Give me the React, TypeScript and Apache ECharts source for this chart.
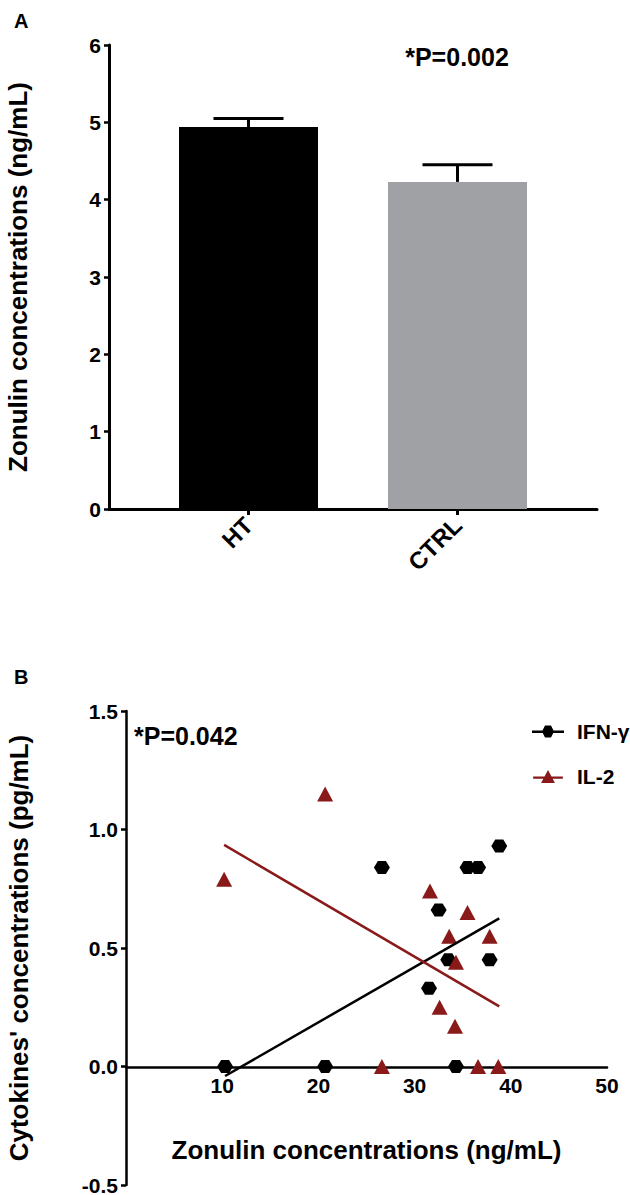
import React, { useEffect, useRef } from "react";
import * as echarts from "echarts";

// Panel A data
const categories = ["HT", "CTRL"];
const means = [4.94, 4.23];
const sems = [0.11, 0.22];
const barColors = ["#000000", "#a0a1a4"];

// Panel B data
const ifnX = [10.3, 20.7, 26.6, 31.5, 32.5, 33.5, 34.3, 35.5, 36.6, 37.8, 38.8];
const ifnY = [0, 0, 0.84, 0.33, 0.66, 0.45, 0, 0.84, 0.84, 0.45, 0.93];
const il2X = [10.2, 20.7, 26.6, 31.6, 32.6, 33.6, 34.2, 34.3, 35.5, 36.6, 37.8, 38.7];
const il2Y = [0.79, 1.15, 0, 0.74, 0.25, 0.55, 0.17, 0.44, 0.65, 0, 0.55, 0];
const ifnFitX = [10.3, 38.8];
const ifnFitY = [-0.04, 0.625];
const il2FitX = [10.2, 38.8];
const il2FitY = [0.935, 0.254];

const FONT = "'Liberation Sans', Arial, Helvetica, sans-serif";
const RED = "#8a1a1a";
const HEX = "path://M0,5 L3,0 L9,0 L12,5 L9,10 L3,10 Z";

export default function App() {
  const ref = useRef<HTMLDivElement>(null);
  useEffect(() => {
    document.body.style.margin = "0";
    const chart = echarts.init(ref.current!, null, { renderer: "svg" });
    const bold = { fontFamily: FONT, fontWeight: "bold" as const, color: "#000" };
    const option: any = {
      animation: false,
      backgroundColor: "#fff",
      grid: [
        { left: 109, right: 33, top: 45, height: 464, outerBoundsMode: "none", containLabel: false },
        { left: 126, right: 23, top: 711, height: 474, outerBoundsMode: "none", containLabel: false },
      ],
      xAxis: [
        {
          gridIndex: 0,
          type: "value",
          min: 0.3325,
          max: 2.6675,
          splitLine: { show: false },
          axisLine: { show: true, lineStyle: { color: "#000", width: 3 } },
          axisTick: { show: true, customValues: [1, 2], length: 6, lineStyle: { color: "#000", width: 3 } },
          axisLabel: {
            customValues: [1, 2],
            formatter: (v: number) => categories[Math.round(v) - 1] ?? "",
            rotate: 45,
            margin: 12,
            fontSize: 24,
            ...bold,
          },
        },
        {
          gridIndex: 1,
          type: "value",
          min: 0,
          max: 50,
          interval: 10,
          position: "bottom",
          offset: -118,
          splitLine: { show: false },
          axisLine: { show: true, onZero: false, lineStyle: { color: "#000", width: 2.5 } },
          axisTick: { show: false },
          axisLabel: {
            formatter: (v: number) => (v === 0 ? "" : String(v)),
            margin: 8,
            fontSize: 21,
            ...bold,
          },
          name: "Zonulin concentrations (ng/mL)",
          nameLocation: "middle",
          nameGap: 70,
          nameTextStyle: { fontSize: 26, ...bold },
        },
      ],
      yAxis: [
        {
          gridIndex: 0,
          type: "value",
          min: 0,
          max: 6,
          interval: 1,
          splitLine: { show: false },
          axisLine: { show: true, lineStyle: { color: "#000", width: 3 } },
          axisTick: { show: true, length: 5, lineStyle: { color: "#000", width: 2.5 } },
          axisLabel: { margin: 8, fontSize: 21, ...bold },
          name: "Zonulin concentrations (ng/mL)",
          nameLocation: "middle",
          nameRotate: 90,
          nameGap: 78,
          nameTextStyle: { fontSize: 26, ...bold },
        },
        {
          gridIndex: 1,
          type: "value",
          min: -0.5,
          max: 1.5,
          interval: 0.5,
          splitLine: { show: false },
          axisLine: { show: true, onZero: false, lineStyle: { color: "#000", width: 2.5 } },
          axisTick: { show: true, length: 5, lineStyle: { color: "#000", width: 2.5 } },
          axisLabel: { margin: 8, fontSize: 21, formatter: (v: number) => v.toFixed(1), ...bold },
          name: "Cytokines' concentrations (pg/mL)",
          nameLocation: "middle",
          nameRotate: 90,
          nameGap: 94,
          nameTextStyle: { fontSize: 26, ...bold },
        },
      ],
      legend: {
        orient: "vertical",
        left: 527,
        top: 716,
        itemWidth: 32,
        itemHeight: 13,
        itemGap: 24,
        textStyle: { fontSize: 21, padding: [0, 0, 0, 8], ...bold },
        data: [
          { name: "IFN-γ", icon: "path://M0,6 L32,6 L32,8.5 L0,8.5 Z M10,7 L13,1 L19,1 L22,7 L19,13 L13,13 Z", itemStyle: { color: "#000" } },
          { name: "IL-2", icon: "path://M0,8 L32,8 L32,10.5 L0,10.5 Z M16,1 L23.5,15 L8.5,15 Z", itemStyle: { color: RED } },
        ],
      },
      graphic: [
        { type: "text", left: 14, top: 11, style: { text: "A", font: `bold 20px ${FONT}`, fill: "#000" } },
        { type: "text", left: 14, top: 667, style: { text: "B", font: `bold 20px ${FONT}`, fill: "#000" } },
        { type: "text", x: 457, y: 57, style: { text: "*P=0.002", font: `bold 25px ${FONT}`, fill: "#000", align: "center", verticalAlign: "middle" } },
        { type: "text", x: 134, y: 736, style: { text: "*P=0.042", font: `bold 25px ${FONT}`, fill: "#000", align: "left", verticalAlign: "middle" } },
      ],
      series: [
        {
          type: "bar",
          xAxisIndex: 0,
          yAxisIndex: 0,
          barWidth: 139,
          data: means.map((m, i) => ({ value: [i + 1, m], itemStyle: { color: barColors[i] } })),
        },
        {
          type: "custom",
          xAxisIndex: 0,
          yAxisIndex: 0,
          data: means.map((m, i) => [i + 1, m, m + sems[i]]),
          renderItem: (params: any, api: any) => {
            const x = api.value(0);
            const base = api.coord([x, api.value(1)]);
            const top = api.coord([x, api.value(2)]);
            const style = { stroke: "#000", lineWidth: 3 };
            return {
              type: "group",
              children: [
                { type: "line", shape: { x1: base[0], y1: base[1], x2: top[0], y2: top[1] }, style },
                { type: "line", shape: { x1: top[0] - 35, y1: top[1], x2: top[0] + 35, y2: top[1] }, style },
              ],
            };
          },
        },
        {
          name: "IFN-γ",
          type: "line",
          xAxisIndex: 1,
          yAxisIndex: 1,
          symbol: "none",
          lineStyle: { color: "#000", width: 2.5 },
          itemStyle: { color: "#000" },
          data: ifnFitX.map((x, i) => [x, ifnFitY[i]]),
        },
        {
          name: "IL-2",
          type: "line",
          xAxisIndex: 1,
          yAxisIndex: 1,
          symbol: "none",
          lineStyle: { color: RED, width: 2.5 },
          itemStyle: { color: RED },
          data: il2FitX.map((x, i) => [x, il2FitY[i]]),
        },
        {
          name: "IFN-γ",
          type: "scatter",
          xAxisIndex: 1,
          yAxisIndex: 1,
          symbol: HEX,
          symbolSize: [16, 13],
          itemStyle: { color: "#000", opacity: 1 },
          data: ifnX.map((x, i) => [x, ifnY[i]]),
        },
        {
          name: "IL-2",
          type: "scatter",
          xAxisIndex: 1,
          yAxisIndex: 1,
          symbol: "triangle",
          symbolSize: [16, 15],
          itemStyle: { color: RED, opacity: 1 },
          data: il2X.map((x, i) => [x, il2Y[i]]),
        },
      ],
    };
    chart.setOption(option);
    return () => chart.dispose();
  }, []);
  return <div ref={ref} style={{ width: 630, height: 1195 }} />;
}
